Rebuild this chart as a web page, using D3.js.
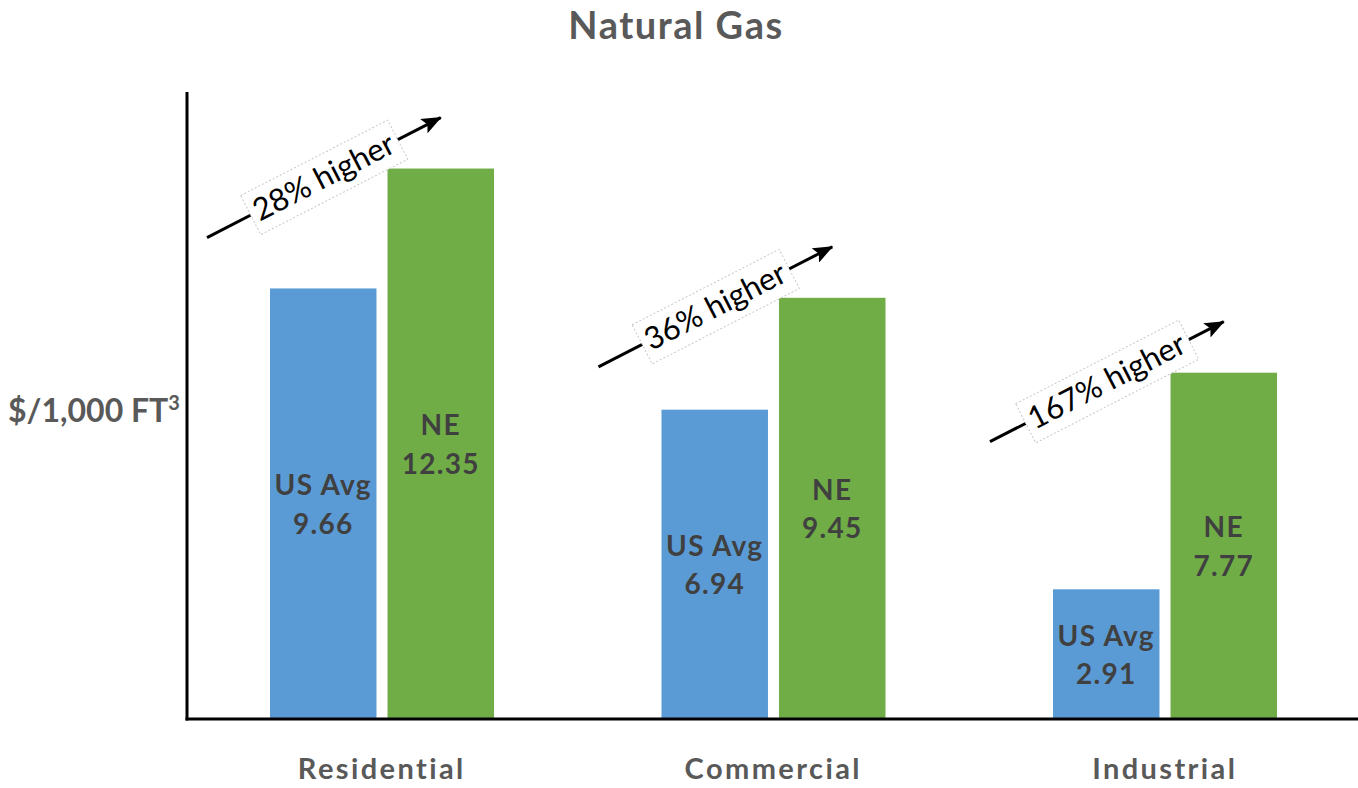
<!DOCTYPE html>
<html>
<head>
<meta charset="utf-8">
<script src="https://cdn.jsdelivr.net/npm/d3@7"></script>
<style>
    html, body { margin: 0; padding: 0; background: #fff; }
    svg { display: block; }
</style>
</head>
<body>
<div id="graph"></div>
<script>
// chart data
const categories = ["Residential", "Commercial", "Industrial"];
const seriesKeys = ["us", "ne"];
const seriesNames = {us: "US Avg", ne: "NE"};
const usAvg = [9.66, 6.94, 2.91];
const neAvg = [12.35, 9.45, 7.77];
const pctHigher = ["28% higher", "36% higher", "167% higher"];

(function() {

    const W = 1358, H = 788;
    const colors = {us: "#5b9bd5", ne: "#70ad47"};
    const font = "Lato, 'Open Sans', sans-serif";

    const svg = d3.select("#graph").append("svg")
        .attr("width", W)
        .attr("height", H);

    // scales
    const x = d3.scaleBand().domain(categories).range([186, 1360.5]).padding(0);
    const x1 = d3.scaleBand().domain(seriesKeys).range([84, 308]).paddingInner(0.094);
    const y = d3.scaleLinear().domain([0, 14]).range([719, 95]);

    const data = categories.map(function(c, i) {
        return {cat: c, us: usAvg[i], ne: neAvg[i], pct: pctHigher[i]};
    });

    // title
    svg.append("text")
        .attr("x", 676)
        .attr("y", 39)
        .attr("text-anchor", "middle")
        .attr("font-family", font)
        .attr("font-weight", "bold")
        .attr("font-size", 38)
        .attr("letter-spacing", 1.5)
        .attr("fill", "#595959")
        .text("Natural Gas");

    // y axis label
    const ylab = svg.append("text")
        .attr("x", 8)
        .attr("y", 422)
        .attr("font-family", font)
        .attr("font-weight", "bold")
        .attr("font-size", 32)
        .attr("fill", "#595959");
    ylab.append("tspan").text("$/1,000 FT");
    ylab.append("tspan").attr("font-size", 20).attr("dy", -12).text("3");

    // bars
    const groups = svg.append("g").selectAll("g")
        .data(data)
        .enter().append("g")
        .attr("transform", d => "translate(" + x(d.cat) + ",0)");

    groups.selectAll("rect")
        .data(d => seriesKeys.map(k => ({key: k, value: d[k]})))
        .enter().append("rect")
        .attr("x", d => x1(d.key))
        .attr("width", x1.bandwidth())
        .attr("y", d => y(d.value))
        .attr("height", d => y(0) - y(d.value))
        .attr("fill", d => colors[d.key]);

    // bar labels, centred in each bar
    const lbl = groups.selectAll("text.bar-label")
        .data(d => seriesKeys.map(k => ({key: k, value: d[k]})))
        .enter().append("text")
        .attr("class", "bar-label")
        .attr("text-anchor", "middle")
        .attr("font-family", font)
        .attr("font-weight", "bold")
        .attr("font-size", 28)
        .attr("letter-spacing", 1.3)
        .attr("fill", "#404040");

    lbl.append("tspan")
        .attr("x", d => x1(d.key) + x1.bandwidth() / 2)
        .attr("y", d => (y(d.value) + y(0)) / 2 - 8.5)
        .text(d => seriesNames[d.key]);
    lbl.append("tspan")
        .attr("x", d => x1(d.key) + x1.bandwidth() / 2)
        .attr("y", d => (y(d.value) + y(0)) / 2 + 30)
        .text(d => d.value.toFixed(2));

    // axes lines
    svg.append("line")
        .attr("x1", 187).attr("x2", 187)
        .attr("y1", y(14) - 3).attr("y2", y(0) + 1.5)
        .attr("stroke", "#000").attr("stroke-width", 3);
    svg.append("line")
        .attr("x1", 185.5).attr("x2", W)
        .attr("y1", y(0)).attr("y2", y(0))
        .attr("stroke", "#000").attr("stroke-width", 3);

    // category labels
    svg.append("g").selectAll("text")
        .data(categories)
        .enter().append("text")
        .attr("x", d => x(d) + x.bandwidth() / 2)
        .attr("y", 779)
        .attr("text-anchor", "middle")
        .attr("font-family", font)
        .attr("font-weight", "bold")
        .attr("font-size", 29)
        .attr("letter-spacing", 2.4)
        .attr("fill", "#595959")
        .text(d => d);

    // arrow marker
    svg.append("defs").append("marker")
        .attr("id", "arrowhead")
        .attr("viewBox", "0 0 20 16")
        .attr("refX", 19)
        .attr("refY", 8)
        .attr("markerWidth", 20)
        .attr("markerHeight", 16)
        .attr("markerUnits", "userSpaceOnUse")
        .attr("orient", "auto")
        .append("path")
        .attr("d", "M0,0 L20,8 L0,16 L4,8 z")
        .attr("fill", "#000");

    // "% higher" annotations: arrow from left of the US bar to above the NE bar
    const ann = svg.append("g").selectAll("g")
        .data(data)
        .enter().append("g");

    ann.each(function(d) {
        const g = d3.select(this);
        const x0 = x(d.cat) + 21;
        const x2 = x(d.cat) + x1("ne") + x1.bandwidth() / 2;
        const y2 = y(d.ne) - 51;
        const y0 = y2 + 120;
        const mx = (x0 + x2) / 2, my = (y0 + y2) / 2;
        const ang = Math.atan2(y2 - y0, x2 - x0) * 180 / Math.PI;

        g.append("line")
            .attr("x1", x0).attr("y1", y0)
            .attr("x2", x2).attr("y2", y2)
            .attr("stroke", "#000")
            .attr("stroke-width", 3)
            .attr("marker-end", "url(#arrowhead)");

        const tg = g.append("g")
            .attr("transform", "translate(" + mx + "," + my + ") rotate(" + ang + ")");

        const t = tg.append("text")
            .attr("x", 0)
            .attr("y", 10)
            .attr("text-anchor", "middle")
            .attr("font-family", font)
            .attr("font-size", 31)
            .attr("fill", "#000")
            .text(d.pct);

        const bb = t.node().getBBox();
        tg.insert("rect", "text")
            .attr("x", bb.x - 5)
            .attr("y", -22)
            .attr("width", bb.width + 10)
            .attr("height", 44)
            .attr("fill", "#fff")
            .attr("stroke", "#c8c8c8")
            .attr("stroke-width", 1)
            .attr("stroke-dasharray", "2,2");
    });

})();
</script>
</body>
</html>
